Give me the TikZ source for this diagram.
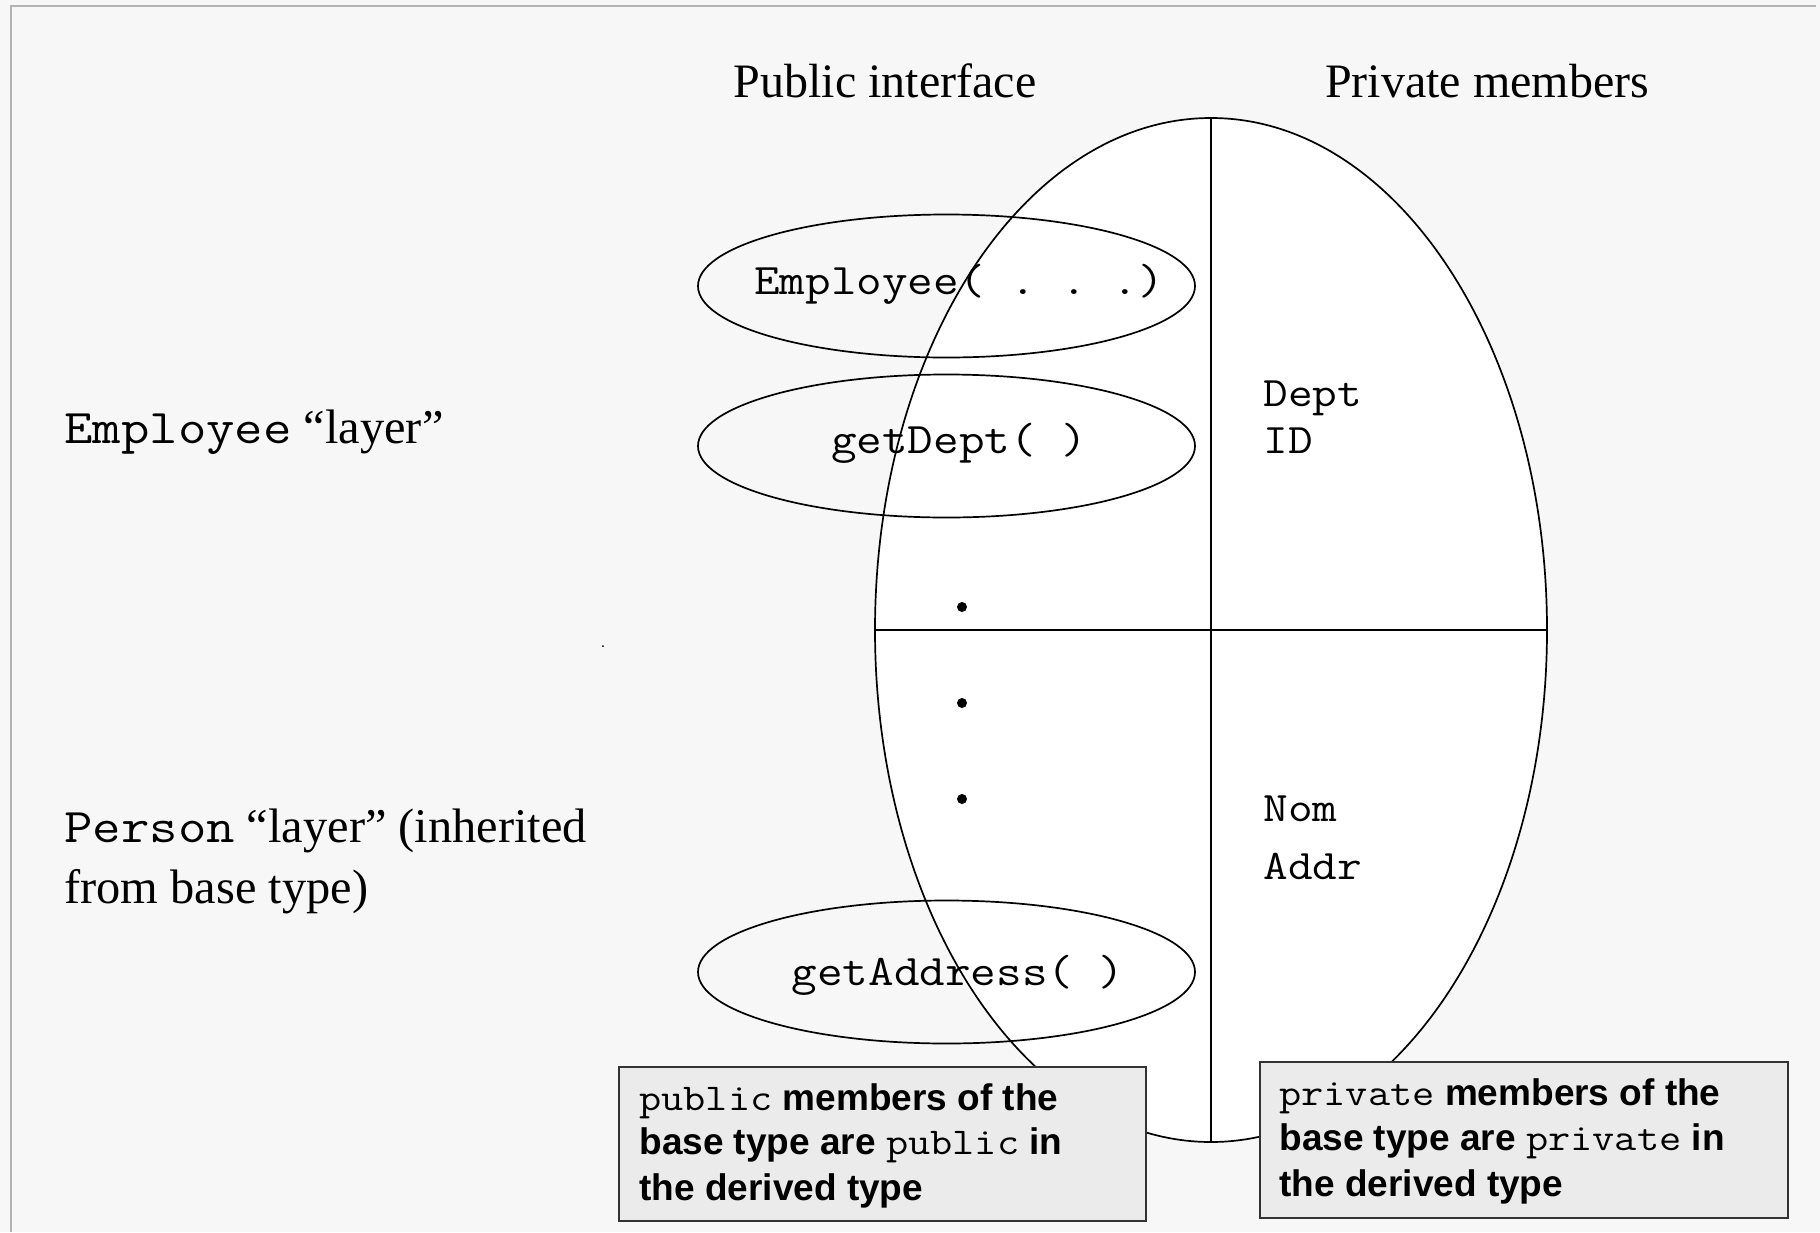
\documentclass[tikz,border=0pt]{standalone}
\usepackage{fontspec}
\setmainfont{Liberation Serif}
\setmonofont[FakeStretch=1.14]{Latin Modern Mono}
\setsansfont{Liberation Sans}
\usetikzlibrary{shapes.geometric}
\definecolor{bg}{HTML}{F7F7F7}
\definecolor{framecol}{HTML}{B3B3B3}
\definecolor{boxfill}{HTML}{EBEBEB}
\definecolor{boxline}{HTML}{333333}
\newcommand{\mytt}[1]{{\mdseries\ttfamily\fontsize{18.9}{22}\selectfont #1}}
\newcommand{\sidett}[1]{{\ttfamily\fontsize{24.2}{29}\selectfont #1}}
\begin{document}
\begin{tikzpicture}[x=0.5pt,y=-0.5pt,
  myline/.style={draw=black, line width=0.85pt},
  oval/.style={ellipse, myline, inner sep=0pt, minimum width=248.5pt, minimum height=71.5pt},
  ttl/.style={font=\fontsize{24}{29}\selectfont, anchor=base, inner sep=0pt},
  sidelbl/.style={font=\fontsize{24.2}{29}\selectfont, anchor=base west, inner sep=0pt},
  codelbl/.style={font=\ttfamily\fontsize{21.8}{26}\selectfont, anchor=base, inner sep=0pt},
  memberlbl/.style={font=\ttfamily\fontsize{21}{25}\selectfont, anchor=base west, inner sep=0pt},
  notebox/.style={rectangle, draw=boxline, fill=boxfill, line width=1pt, inner sep=0pt},
  notetxt/.style={font=\sffamily\bfseries\fontsize{18.5}{22}\selectfont, anchor=base west, inner sep=0pt},
  bulletdot/.style={circle, fill=black, inner sep=0pt, minimum size=5pt}]
% background and frame
\fill[bg] (0,0) rectangle (1820,1232);
\useasboundingbox (0,0) rectangle (1820,1232);
\coordinate (fa) at (11,1232);
\coordinate (fb) at (11,6);
\coordinate (fc) at (1816,6);
\draw[framecol, line width=1pt] (fa) -- (fb) -- (fc);
% big ellipse
\node[ellipse, myline, fill=white, inner sep=0pt, minimum width=336pt, minimum height=512pt] (big) at (1211,630) {};
\draw[myline] (big.north) -- (big.south);
\draw[myline] (big.west) -- (big.east);
% small ellipses
\node[oval] (o1) at (946.5,286) {};
\node[oval] (o2) at (946.5,446) {};
\node[oval] (o3) at (946.5,972) {};
\node[codelbl] (t1) at (959,294) {Employee( . . .)};
\node[codelbl] (t2) at (959,453) {getDept( )};
\node[codelbl] (t3) at (958,985) {getAddress( )};
% titles
\node[ttl] (pub) at (885,97) {Public interface};
\node[ttl] (priv) at (1487,97) {Private members};
% side labels
\node[sidelbl] (l1) at (64,443) {\sidett{Employee} “layer”};
\node[sidelbl] (l2) at (64,842) {\sidett{Person} “layer” (inherited};
\node[sidelbl] (l3) at (64,903) {from base type)};
% members
\node[memberlbl] (m1) at (1263,406) {Dept};
\node[memberlbl] (m2) at (1263,453) {ID};
\node[memberlbl] (m3) at (1263,821) {Nom};
\node[memberlbl] (m4) at (1263,879) {Addr};
% dots
\node[bulletdot] (d1) at (962,607) {};
\node[bulletdot] (d2) at (962,703) {};
\node[bulletdot] (d3) at (962,799) {};
\node[circle, fill=black, inner sep=0pt, minimum size=1pt] (sd) at (603,646) {};
% boxes
\node[notebox, minimum width=263.5pt, minimum height=77pt] (bx1) at (882.5,1144) {};
\node[notebox, minimum width=264pt, minimum height=78pt] (bx2) at (1524,1140) {};
\node[notetxt] (b1a) at (639,1110) {\mytt{public} members of the};
\node[notetxt] (b1b) at (639,1154) {base type are \mytt{public} in};
\node[notetxt] (b1c) at (639,1200) {the derived type};
\node[notetxt] (b2a) at (1279,1105) {\mytt{private} members of the};
\node[notetxt] (b2b) at (1279,1150) {base type are \mytt{private} in};
\node[notetxt] (b2c) at (1279,1196) {the derived type};
\end{tikzpicture}
\end{document}
